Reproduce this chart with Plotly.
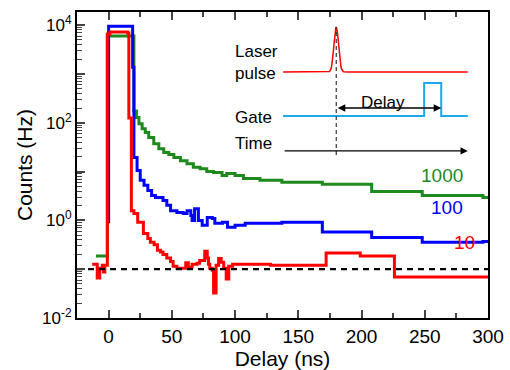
import numpy as np
import plotly.graph_objects as go

FONT = "Liberation Sans, Arial, sans-serif"

# ---------------- data ----------------
# green (1000)
g_x = [-10, -3, -1, 20, 22, 24, 26.5, 29, 31.7, 35.7, 39.7, 43.6, 47.6, 51.6, 56.8, 62, 67, 72.4, 77.6, 83,
       87, 89.7, 93.4, 100, 106.6, 119.7, 137, 169, 208, 248, 296, 300]
g_log = [-0.73, -0.73, 3.78, 2.24, 2.11, 1.98, 1.88, 1.80, 1.70, 1.57, 1.47, 1.39, 1.35, 1.29, 1.22, 1.16, 1.09,
         1.06, 1.00, 0.98, 0.98, 0.92, 0.96, 0.92, 0.86, 0.82, 0.78, 0.74, 0.59, 0.51, 0.47, 0.47]
# blue (100)
b_x = [0, 0, 19, 20, 22.5, 25, 28, 31, 34, 37, 43, 46, 49, 54, 59, 62, 65, 66, 68, 71, 74, 78, 82, 84, 90,
       94, 100, 108, 137, 169, 208, 248, 296, 300]
b_log = [-0.06, 3.98, 3.14, 1.29, 1.02, 0.82, 0.72, 0.61, 0.51, 0.47, 0.41, 0.31, 0.20, 0.16, 0.14, 0.20, 0.10,
         0.0, 0.24, 0.0, -0.10, 0.06, 0.04, -0.06, -0.04, -0.14, -0.10, -0.06, -0.04, -0.24, -0.35, -0.45,
         -0.43, -0.43]
# red (10)
r_x = [-13, -9, -7, -5, -4, -3, -1, 1, 15, 16, 18, 20, 23, 27.5, 31, 33, 36, 38.6, 41, 43, 46, 49, 51, 54, 59,
       61, 63, 66, 70, 72, 75, 76, 78, 79, 80, 82, 83, 85, 87, 89, 91, 93, 95, 98, 128, 172, 199, 226, 300]
r_log = [-0.90, -1.18, -0.98, -0.92, -1.06, -0.92, 3.82, 3.86, 3.84, 2.10, 0.20, 0.14, -0.04, -0.27, -0.37,
         -0.45, -0.50, -0.61, -0.65, -0.70, -0.77, -0.84, -0.94, -0.98, -0.98, -0.87, -0.96, -0.90, -0.88,
         -0.82, -0.82, -0.63, -0.77, -0.90, -0.98, -1.02, -1.49, -0.92, -0.78, -0.86, -0.98, -1.20, -0.94,
         -0.90, -0.92, -0.67, -0.73, -1.16, -1.16]
noise_floor = 0.1
series_labels = ["1000", "100", "10"]

x_ticks = [0, 50, 100, 150, 200, 250, 300]
y_decades = [-2, -1, 0, 1, 2, 3, 4]

GREEN = "#1e8a1e"
BLUE = "#0000ff"
RED = "#ff0000"
GATE = "#1aa8ee"

fig = go.Figure()
for xs, ls, col in [(g_x, g_log, GREEN), (b_x, b_log, BLUE), (r_x, r_log, RED)]:
    fig.add_trace(go.Scatter(x=xs, y=[10 ** v for v in ls], mode="lines",
                             line=dict(color=col, width=3, shape="hv"), showlegend=False, hoverinfo="skip"))
fig.add_trace(go.Scatter(x=[-25, 300], y=[noise_floor, noise_floor], mode="lines",
                         line=dict(color="black", width=2.2, dash="6px,5px"), showlegend=False))

# ---------------- inset schematic (overlay linear axis 0..1) ----------------
ix = np.linspace(138, 284, 400)
laser = 0.804 + 0.147 * np.exp(-0.5 * ((ix - 180) / 1.8) ** 2)
fig.add_trace(go.Scatter(x=ix, y=laser, mode="lines", line=dict(color=RED, width=1.5),
                         yaxis="y2", showlegend=False))
fig.add_trace(go.Scatter(x=[138, 249.5, 249.5, 263, 263, 284], y=[0.660, 0.660, 0.768, 0.768, 0.660, 0.660],
                         mode="lines", line=dict(color=GATE, width=2), yaxis="y2", showlegend=False))
fig.add_trace(go.Scatter(x=[180, 180], y=[0.533, 0.951], mode="lines",
                         line=dict(color="#333333", width=1.2, dash="4px,3px"), yaxis="y2", showlegend=False))

ann = []
# double arrow
ann.append(dict(x=263, y=0.686, ax=180, ay=0.686, xref="x", yref="y2", axref="x", ayref="y2",
                showarrow=True, arrowhead=2, arrowside="end+start", arrowwidth=1.5, arrowsize=1,
                arrowcolor="black", text=""))
# time arrow
ann.append(dict(x=284, y=0.546, ax=138, ay=0.546, xref="x", yref="y2", axref="x", ayref="y2",
                showarrow=True, arrowhead=2, arrowwidth=1.2, arrowsize=1.2, arrowcolor="black", text=""))
ann.append(dict(x=217, y=0.742, xref="x", yref="paper", text="Delay", showarrow=False,
                font=dict(size=17, color="black", family=FONT)))
for txt, yy in [("Laser", 0.908), ("pulse", 0.838), ("Gate", 0.693), ("Time", 0.569)]:
    ann.append(dict(x=0.379, y=yy, xref="paper", yref="paper", text=txt, showarrow=False,
                    xanchor="left", font=dict(size=17, color="black", family=FONT)))
for txt, xx, yy, col in [(series_labels[0], 263.5, 0.467, GREEN), (series_labels[1], 267.5, 0.32, BLUE),
                         (series_labels[2], 281.5, 0.206, RED)]:
    ann.append(dict(x=xx, y=yy, xref="x", yref="paper", text=txt, showarrow=False,
                    font=dict(size=19, color=col, family=FONT)))

y_tickvals = [10 ** d for d in y_decades]
y_ticktext = ["10<sup>%d</sup>" % d if d % 2 == 0 else "" for d in y_decades]
y_minor = [k * 10 ** d for d in y_decades[:-1] for k in range(2, 10)]

fig.update_layout(
    width=510, height=370, margin=dict(l=77, r=22, t=12, b=52),
    paper_bgcolor="white", plot_bgcolor="white",
    font=dict(family=FONT, color="black"),
    annotations=ann,
    xaxis=dict(range=[-25, 300], tickvals=x_ticks, ticks="inside", ticklen=8, tickwidth=1.5,
               showline=True, linecolor="black", linewidth=2, mirror="ticks", showgrid=False, zeroline=False,
               automargin=False,
               tickfont=dict(size=19), minor=dict(dtick=25, tick0=0, ticks="inside", ticklen=5, tickwidth=1.5),
               title=dict(text="Delay (ns)", font=dict(size=21), standoff=2)),
    yaxis=dict(type="log", range=[-2, 4.27], tickvals=y_tickvals, ticktext=y_ticktext, ticks="inside",
               ticklen=8, tickwidth=1.5, showline=True, linecolor="black", linewidth=2, mirror=True,
               showgrid=False, zeroline=False, tickfont=dict(size=17), automargin=False,
               minor=dict(tickvals=y_minor, ticks="inside", ticklen=5, tickwidth=1),
               title=dict(text="Counts (Hz)", font=dict(size=21), standoff=4)),
    yaxis2=dict(overlaying="y", range=[0, 1], visible=False, showgrid=False),
)

fig.write_html("out.html")
